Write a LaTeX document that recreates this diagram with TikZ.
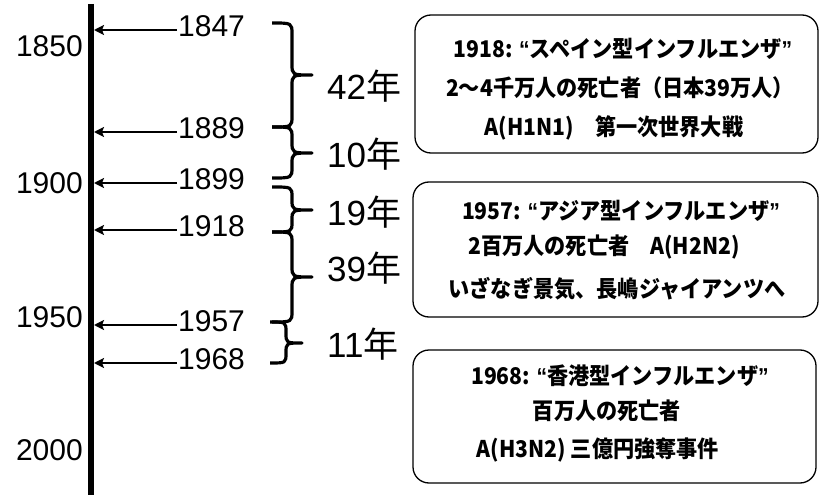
\documentclass[tikz,border=0pt]{standalone}
\usepackage{fontspec}
\setmainfont{Liberation Sans}
\newfontfamily\jp{Noto Sans CJK JP}
\newfontfamily\jpx{Noto Sans CJK JP}[FakeStretch=0.92]
\newfontfamily\qfont{Liberation Sans}[FakeStretch=0.92]
\usetikzlibrary{arrows.meta}
\tikzset{
  yearlbl/.style={font=\fontsize{30}{30}\selectfont, inner sep=1pt},
  gaplbl/.style={font=\fontsize{35}{35}\selectfont, inner sep=0pt, anchor=west},
  arr/.style={line width=2.8pt, -{Stealth[length=10pt,width=10pt,inset=2pt]}},
  brc/.style={line width=3.2pt, line join=round},
  infobox/.style={draw, line width=1.3pt, rounded corners=16pt},
  infotxt/.style={font=\jpx\bfseries\fontsize{23}{23}\selectfont, inner sep=0pt},
}
\newcommand\qo{{\qfont\bfseries “}}
\newcommand\qc{{\qfont\bfseries ”}}
\begin{document}
\begin{tikzpicture}[x=1pt,y=-1pt]
\useasboundingbox (0,0) rectangle (820,495);
% timeline
\coordinate (ttop) at (91,4);
\coordinate (tbot) at (91,495);
\draw[line width=6.5pt] (ttop) -- (tbot);
% axis years
\node[yearlbl, anchor=east] (a1850) at (84,46) {1850};
\node[yearlbl, anchor=east] (a1900) at (84,183) {1900};
\node[yearlbl, anchor=east] (a1950) at (84,317) {1950};
\node[yearlbl, anchor=east] (a2000) at (84,450) {2000};
% event years with arrows
\foreach \yr/\yy in {1847/30,1889/132,1899/183,1918/230,1957/325,1968/363}{
  \node[yearlbl, anchor=west] (y\yr) at (177,\yy-4) {\yr};
  \coordinate (t\yr) at (94,\yy);
  \draw[arr] ([yshift=-4pt]y\yr.west) -- (t\yr);
}
% braces: L, B, T, top, bottom, mid, curl
\newcommand\mybrace[7]{%
  \draw[brc] (#1,#4) .. controls (#2,#4) .. (#2,#4+#7) -- (#2,#6-#7)
    .. controls (#2,#6) .. (#3,#6)
    .. controls (#2,#6) .. (#2,#6+#7) -- (#2,#5-#7)
    .. controls (#2,#5) .. (#1,#5);}
\mybrace{272}{292}{312}{23}{127}{75}{11}
\mybrace{272}{292}{312}{127}{178}{153}{11}
\mybrace{272}{292}{312}{187}{232}{210}{10}
\mybrace{272}{292}{312}{232}{322}{277}{11}
\mybrace{270}{286}{302}{322}{363}{343}{10}
% gap labels
\node[gaplbl] (g42) at (327,86) {42{\jp 年}};
\node[gaplbl] (g10) at (327,154) {10{\jp 年}};
\node[gaplbl] (g19) at (327,212) {19{\jp 年}};
\node[gaplbl] (g39) at (327,268) {39{\jp 年}};
\node[gaplbl] (g11) at (327,344) {11{\jp 年}};
% boxes
\draw[infobox] (415,15) rectangle (818,153);
\draw[infobox] (413,182) rectangle (818,317);
\draw[infobox] (413,350) rectangle (816,483);
\node[infotxt] (b1a) at (623,49) {1918: \qo スペイン型インフルエンザ\qc};
\node[infotxt] (b1b) at (620,88) {2～4千万人の死亡者（日本39万人）};
\node[infotxt] (b1c) at (614,128) {A(H1N1)　第一次世界大戦};
\node[infotxt] (b2a) at (621,211) {1957: \qo アジア型インフルエンザ\qc};
\node[infotxt] (b2b) at (604,247) {2百万人の死亡者　A(H2N2)};
\node[infotxt] (b2c) at (617,289) {いざなぎ景気、長嶋ジャイアンツへ};
\node[infotxt] (b3a) at (620,376) {1968: \qo 香港型インフルエンザ\qc};
\node[infotxt] (b3b) at (607,411) {百万人の死亡者};
\node[infotxt] (b3c) at (598,450) {A(H3N2) 三億円強奪事件};
\end{tikzpicture}
\end{document}
